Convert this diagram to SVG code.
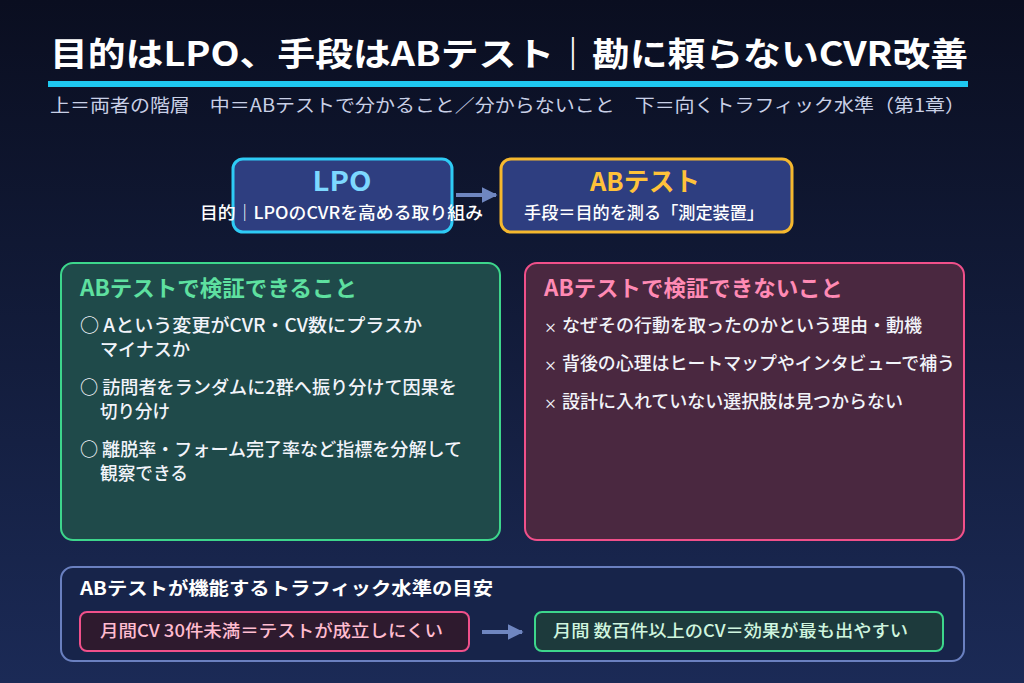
<svg xmlns="http://www.w3.org/2000/svg" width="1024" height="683" viewBox="0 0 1024 683">
<defs>
<linearGradient id="bg" x1="0" y1="0" x2="0" y2="1">
<stop offset="0" stop-color="#0A0E20"/>
<stop offset="1" stop-color="#1B2A56"/>
</linearGradient>
<marker id="ah" viewBox="0 0 10 10" refX="9" refY="5" markerWidth="4" markerHeight="4" orient="auto" markerUnits="strokeWidth">
<path d="M0,0 L10,5 L0,10 z" fill="#6F86C0"/>
</marker>
<style>
text{font-family:"Noto Sans CJK JP","Noto Sans",sans-serif}
.b{font-weight:700}
.w{fill:#FFFFFF}
.it{font-size:18px;fill:#F2F4FA;font-weight:500}
.conn{stroke:#6F86C0;stroke-width:4;fill:none}
</style>
</defs>
<rect width="1024" height="683" fill="url(#bg)"/>
<g id="header">
<text x="50" y="66" class="b w" font-size="33" textLength="918" lengthAdjust="spacingAndGlyphs">目的はLPO、手段はABテスト｜勘に頼らないCVR改善</text>
<rect x="48" y="81" width="920" height="6" fill="#1EC8F0"/>
<text x="50" y="112" font-size="18" fill="#C9D0E6" textLength="915" lengthAdjust="spacingAndGlyphs">上＝両者の階層　中＝ABテストで分かること／分からないこと　下＝向くトラフィック水準（第1章）</text>
</g>
<g id="lpo">
<rect x="233" y="159" width="219" height="73" rx="10" fill="#2E3E80" stroke="#2ECBF5" stroke-width="3"/>
<text x="342" y="191" text-anchor="middle" class="b" font-size="27" fill="#7DD8FF" textLength="59" lengthAdjust="spacingAndGlyphs">LPO</text>
<text x="200" y="219" font-size="17" fill="#FFFFFF" font-weight="500" textLength="283" lengthAdjust="spacingAndGlyphs">目的｜LPOのCVRを高める取り組み</text>
</g>
<g id="abtest">
<rect x="501" y="159" width="291" height="73" rx="10" fill="#2E3E80" stroke="#F5B82E" stroke-width="3"/>
<text x="590" y="191" class="b" font-size="26" fill="#FFC23A" textLength="110" lengthAdjust="spacingAndGlyphs">ABテスト</text>
<text x="524" y="219" font-size="17" fill="#FFFFFF" font-weight="500" textLength="240" lengthAdjust="spacingAndGlyphs">手段＝目的を測る「測定装置」</text>
</g>
<g id="can">
<rect x="61" y="263" width="439" height="277" rx="12" fill="#1F4A4A" stroke="#3DD68C" stroke-width="2"/>
<text x="80" y="296" class="b" font-size="22" fill="#5EE0A0" textLength="277" lengthAdjust="spacingAndGlyphs">ABテストで検証できること</text>
<text x="80" y="332" class="it" textLength="342" lengthAdjust="spacingAndGlyphs">○ Aという変更がCVR・CV数にプラスか</text>
<text x="100" y="356" class="it" textLength="90" lengthAdjust="spacingAndGlyphs">マイナスか</text>
<text x="80" y="394" class="it" textLength="377" lengthAdjust="spacingAndGlyphs">○ 訪問者をランダムに2群へ振り分けて因果を</text>
<text x="100" y="418" class="it" textLength="70" lengthAdjust="spacingAndGlyphs">切り分け</text>
<text x="80" y="456" class="it" textLength="382" lengthAdjust="spacingAndGlyphs">○ 離脱率・フォーム完了率など指標を分解して</text>
<text x="100" y="480" class="it" textLength="88" lengthAdjust="spacingAndGlyphs">観察できる</text>
</g>
<g id="cannot">
<rect x="525" y="263" width="439" height="277" rx="12" fill="#4A2840" stroke="#F0508A" stroke-width="2"/>
<text x="544" y="296" class="b" font-size="22" fill="#FF8AB4" textLength="299" lengthAdjust="spacingAndGlyphs">ABテストで検証できないこと</text>
<text x="544" y="332" class="it"><tspan font-size="13">×</tspan></text>
<text x="562" y="332" class="it" textLength="360" lengthAdjust="spacingAndGlyphs">なぜその行動を取ったのかという理由・動機</text>
<text x="544" y="370" class="it"><tspan font-size="13">×</tspan></text>
<text x="562" y="370" class="it" textLength="393" lengthAdjust="spacingAndGlyphs">背後の心理はヒートマップやインタビューで補う</text>
<text x="544" y="408" class="it"><tspan font-size="13">×</tspan></text>
<text x="562" y="408" class="it" textLength="341" lengthAdjust="spacingAndGlyphs">設計に入れていない選択肢は見つからない</text>
</g>
<g id="traffic">
<rect x="61" y="567" width="903" height="94" rx="12" fill="#17244A" stroke="#6A80C0" stroke-width="2"/>
<text x="80" y="595" class="b w" font-size="18" textLength="413" lengthAdjust="spacingAndGlyphs">ABテストが機能するトラフィック水準の目安</text>
</g>
<g id="low">
<rect x="80" y="612" width="389" height="39" rx="7" fill="#2E1A2E" stroke="#F0508A" stroke-width="2"/>
<text x="100" y="637" font-size="17" fill="#FFBCD0" font-weight="500" textLength="343" lengthAdjust="spacingAndGlyphs">月間CV 30件未満＝テストが成立しにくい</text>
</g>
<g id="high">
<rect x="535" y="612" width="408" height="39" rx="7" fill="#1D3A3C" stroke="#3DD68C" stroke-width="2"/>
<text x="553" y="637" font-size="17" fill="#CFF5DF" font-weight="500" textLength="355" lengthAdjust="spacingAndGlyphs">月間 数百件以上のCV＝効果が最も出やすい</text>
</g>
<g id="connectors">
<line x1="456" y1="195" x2="496" y2="195" class="conn" marker-end="url(#ah)"/>
<line x1="482" y1="632" x2="522" y2="632" class="conn" marker-end="url(#ah)"/>
</g>
</svg>
